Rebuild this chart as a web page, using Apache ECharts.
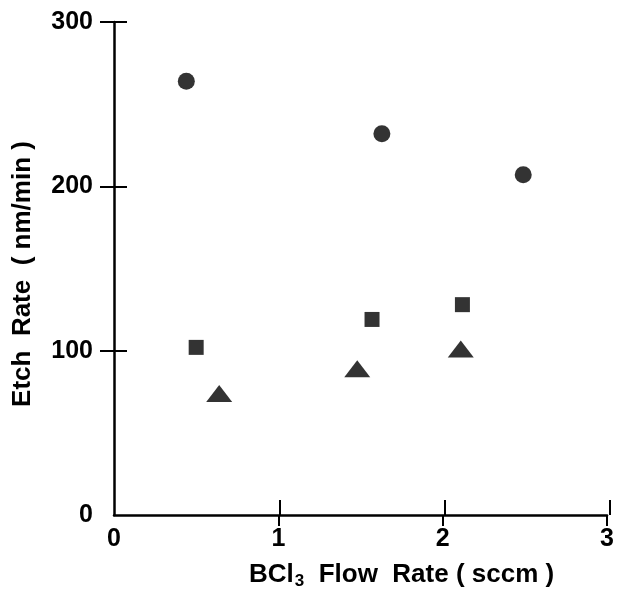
<!DOCTYPE html>
<html>
<head>
<meta charset="utf-8">
<script src="https://cdn.jsdelivr.net/npm/echarts@6/dist/echarts.min.js"></script>
<style>
  html, body { margin: 0; padding: 0; background: #fff; }
  #chart { width: 617px; height: 596px; }
</style>
</head>
<body>
<div id="chart"></div>
<script>
// BCl3 flow rate (sccm) vs etch rate (nm/min), three material series
const circleFlow = [0.44, 1.63, 2.49];
const circleRate = [264, 232, 207];
const squareFlow = [0.50, 1.57, 2.12];
const squareRate = [102, 119, 128];
const triangleFlow = [0.64, 1.48, 2.11];
const triangleRate = [74, 89, 101];

const xTicks = [1, 2, 3];
const yTicks = [100, 200, 300];

const FONT = '"Liberation Sans", Arial, Helvetica, sans-serif';

function pairs(xs, ys) {
  return xs.map((x, i) => [x, ys[i]]);
}

const chart = echarts.init(document.getElementById('chart'), null, { renderer: 'canvas' });

const lineStyle = { color: '#000', width: 2.5 };
const tickStyle = { color: '#000', width: 2 };
const gridRect = { left: 114, right: 7, top: 22, bottom: 81, containLabel: false };

// Two identical grids: the first carries the axis lines, outward ticks and labels,
// the second only adds the inward half of each tick so the ticks cross the axes.
chart.setOption({
  backgroundColor: '#fff',
  animation: false,
  grid: [Object.assign({}, gridRect), Object.assign({}, gridRect)],
  xAxis: [
    {
      type: 'value', gridIndex: 0, min: 0, max: 3, interval: 1,
      axisLine: { show: true, lineStyle: lineStyle },
      axisTick: { show: true, inside: false, length: 11, lineStyle: tickStyle, customValues: xTicks },
      axisLabel: { color: '#000', fontFamily: FONT, fontWeight: 'bold', fontSize: 25, margin: 12 },
      splitLine: { show: false }
    },
    {
      type: 'value', gridIndex: 1, min: 0, max: 3, interval: 1,
      axisLine: { show: false },
      axisTick: { show: true, inside: true, length: 15, lineStyle: tickStyle, customValues: xTicks },
      axisLabel: { show: false },
      splitLine: { show: false }
    }
  ],
  yAxis: [
    {
      type: 'value', gridIndex: 0, min: 0, max: 300, interval: 100,
      axisLine: { show: true, lineStyle: lineStyle },
      axisTick: { show: true, inside: false, length: 14, lineStyle: tickStyle, customValues: yTicks },
      axisLabel: { color: '#000', fontFamily: FONT, fontWeight: 'bold', fontSize: 25, margin: 21 },
      splitLine: { show: false }
    },
    {
      type: 'value', gridIndex: 1, min: 0, max: 300, interval: 100,
      axisLine: { show: false },
      axisTick: { show: true, inside: true, length: 13, lineStyle: tickStyle, customValues: yTicks },
      axisLabel: { show: false },
      splitLine: { show: false }
    }
  ],
  graphic: [
    {
      type: 'text',
      left: 249, top: 562,
      style: {
        text: '{b|BCl}{s|3}{b|  Flow  Rate ( sccm )}',
        rich: {
          b: { fontFamily: FONT, fontWeight: 'bold', fontSize: 26, fill: '#000' },
          s: { fontFamily: FONT, fontWeight: 'bold', fontSize: 17, fill: '#000', verticalAlign: 'bottom', padding: [13, 0, 0, 1] }
        }
      }
    },
    {
      type: 'text',
      x: 23, y: 274,
      rotation: Math.PI / 2,
      style: {
        text: 'Etch  Rate  ( nm/min )',
        fontFamily: FONT, fontWeight: 'bold', fontSize: 26, fill: '#000',
        align: 'center', verticalAlign: 'middle'
      }
    }
  ],
  series: [
    {
      type: 'scatter', name: 'circle', symbol: 'circle', symbolSize: 17,
      xAxisIndex: 0, yAxisIndex: 0,
      itemStyle: { color: '#000' },
      data: pairs(circleFlow, circleRate)
    },
    {
      type: 'scatter', name: 'square', symbol: 'rect', symbolSize: 15,
      xAxisIndex: 0, yAxisIndex: 0,
      itemStyle: { color: '#000' },
      data: pairs(squareFlow, squareRate)
    },
    {
      type: 'scatter', name: 'triangle', symbol: 'triangle', symbolSize: [26, 17],
      xAxisIndex: 0, yAxisIndex: 0,
      itemStyle: { color: '#000' },
      data: pairs(triangleFlow, triangleRate)
    }
  ]
});
</script>
</body>
</html>
